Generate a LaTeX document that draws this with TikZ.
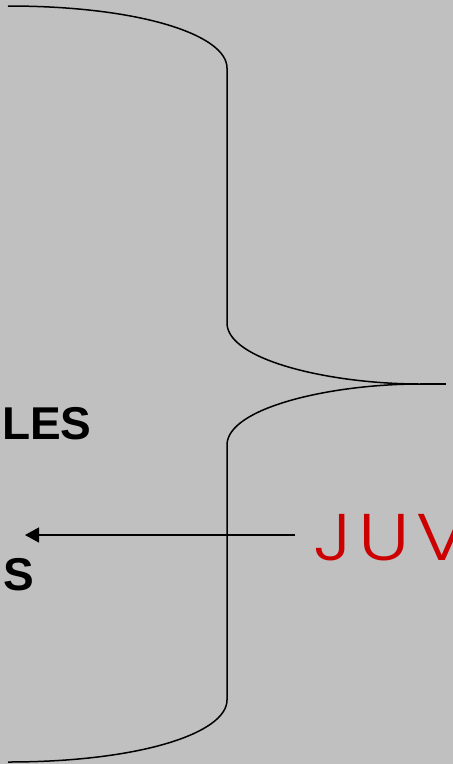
\documentclass[tikz,border=0pt]{standalone}
\usepackage{fontspec}
\setmainfont{Liberation Sans}
\newfontfamily\juvfont{Poppins}[UprightFont=* Light, LetterSpace=10, FakeStretch=1.18]
\usetikzlibrary{arrows.meta}
\definecolor{bggray}{HTML}{C0C0C0}
\definecolor{juvred}{HTML}{CC0000}
\tikzset{
  bracepath/.style={line width=1.5pt, black},
  arrowline/.style={line width=1.5pt, black, -{Triangle[length=14pt,width=15pt]}},
  boldlabel/.style={font=\fontsize{46}{50}\selectfont\bfseries, inner sep=0pt, anchor=base west},
  redlabel/.style={font=\juvfont\fontsize{66}{70}\selectfont, text=juvred, inner sep=0pt, anchor=base west}
}
\begin{document}
\begin{tikzpicture}[x=1pt,y=-1pt]
\fill[bggray] (0,0) rectangle (453,764);
\useasboundingbox (0,0) rectangle (453,764);
\draw[bracepath] (8,6) .. controls (140,6) and (227,35) .. (227,68)
  -- (227,323) .. controls (227,360) and (330,384) .. (420,384)
  .. controls (330,384) and (227,408) .. (227,445)
  -- (227,700) .. controls (227,733) and (140,762) .. (8,762);
\draw[bracepath] (420,384) -- (446,384);
\node[boldlabel] (les) at (2,439) {LES};
\node[boldlabel] (s) at (3,590) {S};
\node[redlabel] (juv) at (313,560) {JUV};
\coordinate (astart) at (295,535);
\coordinate (aend) at (25,535);
\draw[arrowline] (astart) -- (aend);
\end{tikzpicture}
\end{document}
